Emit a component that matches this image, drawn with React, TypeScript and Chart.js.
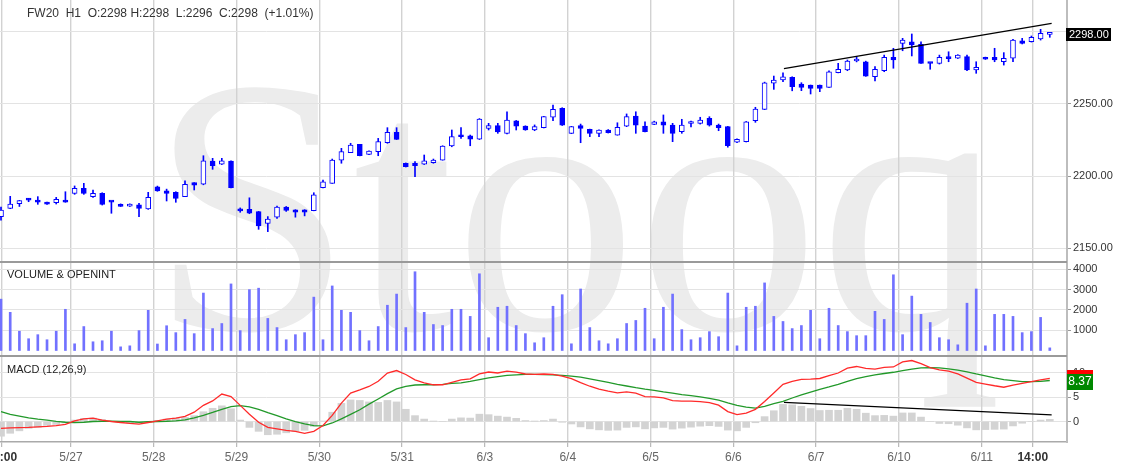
import React, { useEffect, useRef } from 'react';
import { Chart, registerables } from 'chart.js';

Chart.register(...registerables);

const FONT = "'Liberation Sans', Arial, Helvetica, sans-serif";

// ---- hourly bars (FW20, H1) ----
const OPEN = [
  2172.0, 2177.7, 2181.0, 2183.6, 2183.5, 2180.8, 2181.6, 2183.5, 2188.0, 2191.5,
  2185.8, 2188.1, 2182.3, 2180.5, 2179.2, 2180.2, 2177.3, 2192.6, 2189.9, 2188.8,
  2185.8, 2195.5, 2194.4, 2210.4, 2208.2, 2210.4, 2176.2, 2177.0, 2175.4, 2167.3,
  2171.6, 2178.5, 2176.6, 2176.6, 2176.1, 2192.0, 2195.0, 2211.1, 2216.2, 2222.0,
  2215.0, 2216.9, 2223.1, 2230.3, 2208.9, 2208.8, 2208.2, 2209.3, 2211.1, 2220.8,
  2227.5, 2227.8, 2225.5, 2233.0, 2234.9, 2229.6, 2238.3, 2234.6, 2231.9, 2233.5,
  2240.7, 2246.9, 2229.6, 2234.9, 2232.4, 2229.6, 2231.9, 2228.4, 2234.6, 2241.6,
  2234.6, 2235.8, 2237.6, 2235.3, 2230.7, 2236.4, 2236.5, 2240.0, 2235.3, 2234.2,
  2223.4, 2223.8, 2238.3, 2246.2, 2264.2, 2266.5, 2268.3, 2263.7, 2263.0, 2263.0,
  2261.4, 2271.5, 2273.4, 2279.6, 2279.1, 2268.7, 2272.9, 2282.2, 2291.8, 2292.9,
  2291.2, 2278.1, 2278.0, 2281.5, 2281.5, 2282.6, 2273.4, 2282.2, 2282.2, 2279.1,
  2281.5, 2293.6, 2292.9, 2294.8, 2298.0,
];
const HIGH = [
  2178.5, 2186.0, 2183.2, 2184.6, 2185.8, 2182.0, 2185.3, 2189.2, 2193.2, 2195.0,
  2190.4, 2188.5, 2182.5, 2180.8, 2180.8, 2181.2, 2188.8, 2193.1, 2191.0, 2189.2,
  2196.7, 2195.5, 2214.1, 2212.3, 2212.3, 2210.6, 2178.0, 2185.0, 2175.6, 2172.0,
  2179.3, 2179.0, 2176.8, 2176.8, 2188.5, 2197.3, 2211.8, 2219.2, 2222.7, 2222.0,
  2217.5, 2226.1, 2233.5, 2233.5, 2209.1, 2210.0, 2214.6, 2211.8, 2221.0, 2231.9,
  2233.5, 2228.4, 2239.8, 2236.5, 2236.5, 2244.5, 2238.5, 2234.8, 2235.4, 2241.3,
  2249.2, 2247.3, 2234.4, 2236.0, 2232.5, 2232.0, 2232.2, 2236.9, 2243.0, 2244.5,
  2237.6, 2238.0, 2242.3, 2236.5, 2239.3, 2238.0, 2240.7, 2241.1, 2236.0, 2234.4,
  2225.7, 2237.8, 2247.6, 2265.0, 2269.2, 2271.5, 2268.7, 2264.6, 2263.0, 2263.0,
  2272.9, 2278.0, 2280.3, 2282.5, 2279.5, 2275.7, 2283.7, 2288.4, 2295.3, 2298.3,
  2292.9, 2278.4, 2283.7, 2286.0, 2284.0, 2283.7, 2279.1, 2282.3, 2288.4, 2285.4,
  2294.6, 2295.3, 2296.9, 2301.5, 2298.0,
];
const LOW = [
  2169.5, 2177.5, 2179.0, 2182.3, 2180.5, 2180.5, 2180.7, 2181.9, 2187.4, 2187.4,
  2185.3, 2180.0, 2174.3, 2179.0, 2179.0, 2172.0, 2177.0, 2189.5, 2182.8, 2181.9,
  2185.8, 2190.4, 2194.0, 2204.7, 2208.0, 2191.8, 2175.0, 2174.0, 2163.2, 2161.6,
  2170.8, 2175.6, 2171.6, 2172.5, 2176.0, 2191.9, 2195.0, 2208.9, 2216.2, 2214.0,
  2214.8, 2214.1, 2222.7, 2225.3, 2206.3, 2199.6, 2208.0, 2208.9, 2211.0, 2220.3,
  2226.1, 2221.0, 2225.3, 2231.9, 2229.6, 2229.1, 2231.9, 2231.7, 2231.4, 2233.3,
  2238.3, 2235.0, 2229.4, 2223.1, 2227.3, 2227.3, 2229.8, 2228.3, 2234.2, 2229.6,
  2230.5, 2235.6, 2229.6, 2223.8, 2229.6, 2234.0, 2236.0, 2234.6, 2231.4, 2220.0,
  2223.2, 2223.6, 2237.2, 2246.0, 2260.0, 2265.3, 2259.0, 2259.1, 2256.8, 2258.4,
  2261.3, 2271.4, 2272.9, 2279.0, 2269.0, 2265.8, 2272.2, 2274.6, 2286.7, 2283.1,
  2277.9, 2273.9, 2277.5, 2279.1, 2281.3, 2272.9, 2271.1, 2280.7, 2279.1, 2276.8,
  2279.1, 2291.4, 2292.7, 2294.1, 2296.0,
];
const CLOSE = [
  2176.5, 2180.7, 2183.0, 2183.4, 2182.0, 2180.6, 2184.0, 2182.0, 2191.5, 2188.0,
  2188.1, 2180.5, 2182.0, 2179.1, 2180.6, 2177.7, 2185.3, 2189.7, 2188.1, 2184.6,
  2194.4, 2193.7, 2210.6, 2207.2, 2210.6, 2192.0, 2176.0, 2174.3, 2165.5, 2170.3,
  2178.5, 2176.2, 2175.0, 2175.0, 2187.0, 2196.1, 2211.1, 2216.9, 2221.5, 2214.1,
  2217.3, 2223.8, 2230.3, 2225.4, 2206.5, 2207.2, 2210.6, 2211.1, 2220.8, 2227.3,
  2227.2, 2225.5, 2239.5, 2234.9, 2230.5, 2238.8, 2234.6, 2231.9, 2234.2, 2241.1,
  2246.2, 2235.3, 2234.2, 2233.0, 2229.6, 2231.9, 2230.0, 2233.7, 2241.1, 2235.3,
  2230.7, 2237.6, 2235.3, 2229.6, 2235.3, 2236.6, 2238.8, 2235.3, 2233.5, 2221.0,
  2225.5, 2237.6, 2246.4, 2264.6, 2266.5, 2268.7, 2261.8, 2261.4, 2260.7, 2260.7,
  2272.2, 2273.9, 2279.6, 2280.1, 2269.2, 2273.9, 2282.2, 2280.3, 2294.1, 2290.7,
  2278.0, 2277.9, 2282.2, 2281.3, 2283.7, 2273.4, 2275.2, 2280.8, 2280.3, 2281.5,
  2294.1, 2291.8, 2296.0, 2298.8, 2298.0,
];
const VOLUME = [
  2530, 1880, 950, 580, 780, 530, 950, 2030, 330, 1180,
  430, 480, 950, 180, 230, 980, 1980, 320, 1220, 880,
  1530, 830, 2830, 1080, 1330, 3280, 980, 3000, 3070, 1580,
  1130, 530, 780, 880, 2630, 530, 3180, 1980, 1880, 980,
  480, 1180, 2230, 2780, 1130, 3880, 1880, 1280, 1230, 2030,
  2030, 1680, 3780, 630, 2130, 2180, 1230, 830, 380, 630,
  2180, 2750, 330, 3030, 1130, 480, 330, 580, 1330, 1480,
  2080, 580, 2130, 2780, 1030, 530, 630, 930, 680, 2830,
  230, 2130, 2180, 3330, 1680, 1430, 1080, 1230, 1980, 580,
  2080, 1230, 930, 730, 730, 1930, 1530, 3730, 780, 2680,
  1780, 1380, 630, 530, 280, 2330, 3030, 230, 1780, 1780,
  1680, 880, 930, 1630, 130,
];
// ---- MACD (12,26,9) ----
const MACD = [
  -1.4, -1.3, -1.25, -1.2, -1.1, -1.0, -0.85, -0.6, 0.15, 0.55,
  0.7, 0.3, 0, -0.2, -0.4, -0.55, -0.2, 0.15, 0.5, 0.7,
  1.05, 1.9, 3.3, 4.2, 5.6, 5.1, 3.3, 1.5, -0.15, -1.2,
  -1.5, -1.8, -2.0, -2.4, -2.0, -0.8, 1.25, 3.75, 5.8, 6.45,
  7.15, 8.2, 9.9, 10.4, 9.6, 8.5, 7.9, 7.5, 7.5, 8.0,
  8.5, 8.7, 9.7, 10.1, 9.9, 10.3, 10.1, 9.7, 9.6, 9.7,
  9.6, 9.25, 8.73, 7.93, 7.2, 6.63, 6.18, 5.85, 6.03, 5.78,
  5.1, 5.03, 4.83, 4.25, 4.15, 4.15, 4.08, 3.85, 3.33, 2.03,
  1.4, 1.73, 2.48, 4.1, 5.83, 7.6, 8.2, 8.58, 8.65, 8.78,
  9.35, 9.9, 10.9, 11.23, 10.83, 10.7, 11.05, 11.13, 12.15, 12.45,
  11.83, 11.0, 10.55, 10.28, 9.73, 8.85, 8.0, 7.65, 7.3, 7.0,
  7.43, 7.8, 8.15, 8.5, 8.81,
];
const SIGNAL = [
  2.0, 1.45, 1.1, 0.75, 0.5, 0.3, 0.05, -0.15, -0.2, -0.15,
  0, 0.05, 0.05, 0, 0, -0.15, -0.05, 0, 0.05, 0.15,
  0.35, 0.75, 1.25, 1.85, 2.5, 3.05, 3.25, 3.0, 2.5, 1.8,
  1.2, 0.55, 0, -0.5, -0.85, -0.9, -0.3, 0.55, 1.45, 2.4,
  3.55, 4.6, 5.7, 6.65, 7.15, 7.45, 7.5, 7.5, 7.6, 7.8,
  7.9, 8.2, 8.55, 8.9, 9.15, 9.4, 9.5, 9.6, 9.6, 9.55,
  9.5, 9.4, 9.25, 9.05, 8.7, 8.35, 8.0, 7.6, 7.25, 6.9,
  6.6, 6.35, 6.05, 5.8, 5.5, 5.3, 5.05, 4.7, 4.35, 3.8,
  3.3, 2.95, 2.75, 3.1, 3.65, 4.1, 4.8, 5.45, 6.0, 6.55,
  7.05, 7.6, 8.2, 8.75, 9.15, 9.5, 9.8, 10.05, 10.4, 10.7,
  10.95, 11.0, 10.95, 10.75, 10.5, 10.15, 9.7, 9.3, 8.9, 8.55,
  8.35, 8.15, 8.15, 8.2, 8.37,
];
const HIST = [
  -3.0, -2.4, -1.9, -1.4, -1.2, -0.8, -0.6, -0.3, 0.3, 0.65,
  0.7, 0.4, 0, -0.15, -0.3, -0.3, -0.1, 0.2, 0.5, 0.7,
  0.85, 1.2, 2.0, 2.7, 3.2, 2.6, 0.3, -1.2, -2.0, -2.7,
  -2.6, -2.3, -2.0, -1.8, -1.0, 0.1, 1.9, 3.7, 4.4, 4.3,
  4.0, 3.9, 4.3, 4.0, 2.5, 1.2, 0.5, 0.05, 0, 0.5,
  0.75, 0.7, 1.5, 1.4, 1.1, 0.9, 0.65, 0.2, 0.05, 0.2,
  0.5, -0.15, -0.5, -1.1, -1.5, -1.7, -1.8, -1.75, -1.2, -1.1,
  -1.5, -1.3, -1.2, -1.55, -1.35, -1.15, -0.95, -0.85, -1.0, -1.75,
  -1.9, -1.2, -0.25, 1.0, 2.2, 3.5, 3.4, 3.1, 2.65, 2.25,
  2.3, 2.3, 2.7, 2.5, 1.7, 1.2, 1.25, 1.1, 1.75, 1.75,
  0.9, 0, -0.4, -0.45, -0.75, -1.3, -1.7, -1.65, -1.6, -1.55,
  -0.9, -0.35, 0, 0.3, 0.45,
];
// trend lines (bar index, value)
const PRICE_TREND = [{ x: 85.1, y: 2274.3 }, { x: 114.2, y: 2305.7 }];
const MACD_TREND = [{ x: 85.1, y: 3.9 }, { x: 114.2, y: 1.35 }];

// x-axis ticks (bar index) and their labels
const GRID_POS = [0.08, 7.6, 16.6, 25.6, 34.6, 43.6, 52.6, 61.6, 70.6, 79.6, 88.6, 97.6, 106.6, 112.15];
const GRID_LABELS = ['10:00', '5/27', '5/28', '5/29', '5/30', '5/31', '6/3', '6/4', '6/5', '6/6', '6/7', '6/10', '6/11', '14:00'];
const PRICE_TICKS = [2150, 2200, 2250, 2300];
const VOLUME_TICKS = [1000, 2000, 3000, 4000];
const MACD_TICKS = [0, 5, 10];

const X_MIN = -0.11;
const X_MAX = 115.87;
const BLUE = '#0000ff';

const isTime = (i: number) => (GRID_LABELS[i] || '').includes(':');

function makeX(showLabels: boolean): any {
  return {
    type: 'linear',
    position: 'bottom',
    min: X_MIN,
    max: X_MAX,
    offset: false,
    bounds: 'data',
    afterBuildTicks: (s: any) => {
      s.ticks = GRID_POS.map((v) => ({ value: v }));
    },
    afterFit: (s: any) => {
      s.paddingLeft = 0;
      s.paddingRight = 0;
      s.height = showLabels ? 30 : 0;
    },
    grid: {
      offset: false,
      color: '#d2d2d2',
      lineWidth: 1.4,
      drawTicks: showLabels,
      tickLength: 5,
      tickColor: '#aaaaaa',
      tickWidth: 1,
    },
    border: { display: showLabels, color: '#aaaaaa', width: 1.5 },
    ticks: {
      display: showLabels,
      autoSkip: false,
      maxRotation: 0,
      minRotation: 0,
      padding: 3,
      color: (c: any) => (isTime(c.index) ? '#333333' : '#666666'),
      font: (c: any) => ({ family: FONT, size: 12, weight: isTime(c.index) ? 'bold' : 'normal' }),
      callback: (_v: any, i: number) => GRID_LABELS[i],
    },
  };
}

function makeY(min: number, max: number, ticks: number[], fmt: (v: number) => string): any {
  return {
    type: 'linear',
    position: 'right',
    min,
    max,
    afterBuildTicks: (s: any) => {
      s.ticks = ticks.map((v) => ({ value: v }));
    },
    afterFit: (s: any) => {
      s.width = 59;
      s.paddingTop = 0;
      s.paddingBottom = 0;
    },
    grid: { color: '#e3e3e3', lineWidth: 1, drawTicks: true, tickLength: 4, tickColor: '#999999' },
    border: { display: true, color: '#bdbdbd', width: 2 },
    ticks: { padding: 2, color: '#333333', font: { family: FONT, size: 11 }, callback: (v: number) => fmt(v) },
  };
}

function baseOptions(scales: any): any {
  return {
    responsive: false,
    animation: false,
    events: [],
    layout: { padding: 0 },
    plugins: { legend: { display: false }, tooltip: { enabled: false } },
    scales,
  };
}

const priceLabelPlugin = {
  id: 'priceLabel',
  afterDraw(chart: any) {
    const { ctx, scales } = chart;
    const v = CLOSE[CLOSE.length - 1];
    const y = scales.y.getPixelForValue(v);
    ctx.save();
    ctx.fillStyle = '#000000';
    ctx.fillRect(1066, Math.round(y - 6.5), 45, 13);
    ctx.fillStyle = '#ffffff';
    ctx.font = `11px ${FONT}`;
    ctx.textBaseline = 'middle';
    ctx.textAlign = 'left';
    ctx.fillText(v.toFixed(2), 1069, y + 0.5);
    ctx.restore();
  },
};

const macdLabelPlugin = {
  id: 'macdLabel',
  afterDraw(chart: any) {
    const { ctx, scales } = chart;
    const vm = MACD[MACD.length - 1];
    const vs = SIGNAL[SIGNAL.length - 1];
    const ym = scales.y.getPixelForValue(vm);
    const ys = scales.y.getPixelForValue(vs);
    ctx.save();
    ctx.fillStyle = '#ff0000';
    ctx.fillRect(1067, Math.round(ym - 8), 26, 15);
    ctx.fillStyle = '#008800';
    ctx.fillRect(1067, Math.round(ys - 7), 26, 16);
    ctx.fillStyle = '#ffffff';
    ctx.font = `12px ${FONT}`;
    ctx.textBaseline = 'middle';
    ctx.textAlign = 'center';
    ctx.fillText(vs.toFixed(2), 1080, ys + 1.5);
    ctx.restore();
  },
};

function priceConfig(): any {
  const body = OPEN.map((o, i) => ({ x: i, y: [Math.min(o, CLOSE[i]), Math.max(o, CLOSE[i])] }));
  const wick = OPEN.map((_o, i) => ({ x: i, y: [LOW[i], HIGH[i]] }));
  return {
    data: {
      datasets: [
        {
          type: 'line',
          data: PRICE_TREND,
          borderColor: '#000000',
          borderWidth: 1.3,
          pointRadius: 0,
          order: 0,
        },
        {
          type: 'bar',
          data: body,
          backgroundColor: OPEN.map((o, i) => (CLOSE[i] >= o ? '#ffffff' : BLUE)),
          borderColor: BLUE,
          borderWidth: 1,
          borderSkipped: false,
          barThickness: 5,
          minBarLength: 2,
          grouped: false,
          order: 1,
        },
        {
          type: 'bar',
          data: wick,
          backgroundColor: BLUE,
          borderWidth: 0,
          barThickness: 1,
          minBarLength: 1,
          grouped: false,
          order: 2,
        },
      ],
    },
    options: baseOptions({
      x: makeX(false),
      y: makeY(2140.6, 2321.8, PRICE_TICKS, (v) => (v === 2300 ? '' : v.toFixed(2))),
    }),
    plugins: [priceLabelPlugin],
  };
}

function volumeConfig(): any {
  return {
    data: {
      datasets: [
        {
          type: 'bar',
          data: VOLUME.map((v, i) => ({ x: i, y: v })),
          backgroundColor: '#7171ff',
          borderWidth: 0,
          barThickness: 2,
          grouped: false,
        },
      ],
    },
    options: baseOptions({
      x: makeX(false),
      y: makeY(-271, 4360, VOLUME_TICKS, (v) => String(v)),
    }),
  };
}

function macdConfig(): any {
  return {
    data: {
      datasets: [
        {
          type: 'line',
          data: MACD_TREND,
          borderColor: '#000000',
          borderWidth: 1.3,
          pointRadius: 0,
          order: 0,
        },
        {
          type: 'line',
          data: MACD.map((v, i) => ({ x: i, y: v })),
          borderColor: '#ff2a2a',
          borderWidth: 1.3,
          pointRadius: 0,
          tension: 0,
          order: 1,
        },
        {
          type: 'line',
          data: SIGNAL.map((v, i) => ({ x: i, y: v })),
          borderColor: '#22992a',
          borderWidth: 1.3,
          pointRadius: 0,
          tension: 0,
          order: 2,
        },
        {
          type: 'bar',
          data: HIST.map((v, i) => ({ x: i, y: v })),
          backgroundColor: '#d3d3d3',
          borderWidth: 0,
          barThickness: 7,
          grouped: false,
          order: 3,
        },
      ],
    },
    options: baseOptions({
      x: makeX(true),
      y: makeY(-4.18, 13.37, MACD_TICKS, (v) => String(v)),
    }),
    plugins: [macdLabelPlugin],
  };
}

function ChartCanvas({ top, height, make }: { top: number; height: number; make: () => any }) {
  const ref = useRef<HTMLCanvasElement | null>(null);
  useEffect(() => {
    if (!ref.current) return;
    const chart = new Chart(ref.current, make());
    return () => chart.destroy();
  }, []);
  return (
    <canvas
      ref={ref}
      width={1126}
      height={height}
      style={{ position: 'absolute', left: 0, top, width: 1126, height, zIndex: 1 }}
    />
  );
}

const textStyle: React.CSSProperties = {
  position: 'absolute',
  fontFamily: FONT,
  color: '#222222',
  whiteSpace: 'pre',
  zIndex: 2,
  lineHeight: '14px',
};

export default function App() {
  return (
    <div
      style={{
        position: 'absolute',
        left: 0,
        top: 0,
        width: 1126,
        height: 472,
        overflow: 'hidden',
        background: '#ffffff',
      }}
    >
      <div
        style={{
          position: 'absolute',
          left: 150,
          top: 24,
          fontFamily: "'Liberation Serif', 'DejaVu Serif', serif",
          fontSize: 365,
          lineHeight: '365px',
          color: '#ececec',
          whiteSpace: 'pre',
          zIndex: 0,
        }}
      >
        Stooq
      </div>
      <ChartCanvas top={0} height={262} make={priceConfig} />
      <ChartCanvas top={262} height={94} make={volumeConfig} />
      <ChartCanvas top={356} height={116} make={macdConfig} />
      <div style={{ position: 'absolute', left: 0, top: 261, width: 1067, height: 2, background: '#9a9a9a', zIndex: 2 }} />
      <div style={{ position: 'absolute', left: 0, top: 355, width: 1067, height: 2, background: '#9a9a9a', zIndex: 2 }} />
      <div style={{ ...textStyle, left: 27, top: 6, fontSize: 12, color: '#333333' }}>
        {'FW20  H1  O:2298 H:2298  L:2296  C:2298  (+1.01%)'}
      </div>
      <div style={{ ...textStyle, left: 7, top: 267, fontSize: 11 }}>{'VOLUME & OPENINT'}</div>
      <div style={{ ...textStyle, left: 7, top: 362, fontSize: 11 }}>{'MACD (12,26,9)'}</div>
    </div>
  );
}
